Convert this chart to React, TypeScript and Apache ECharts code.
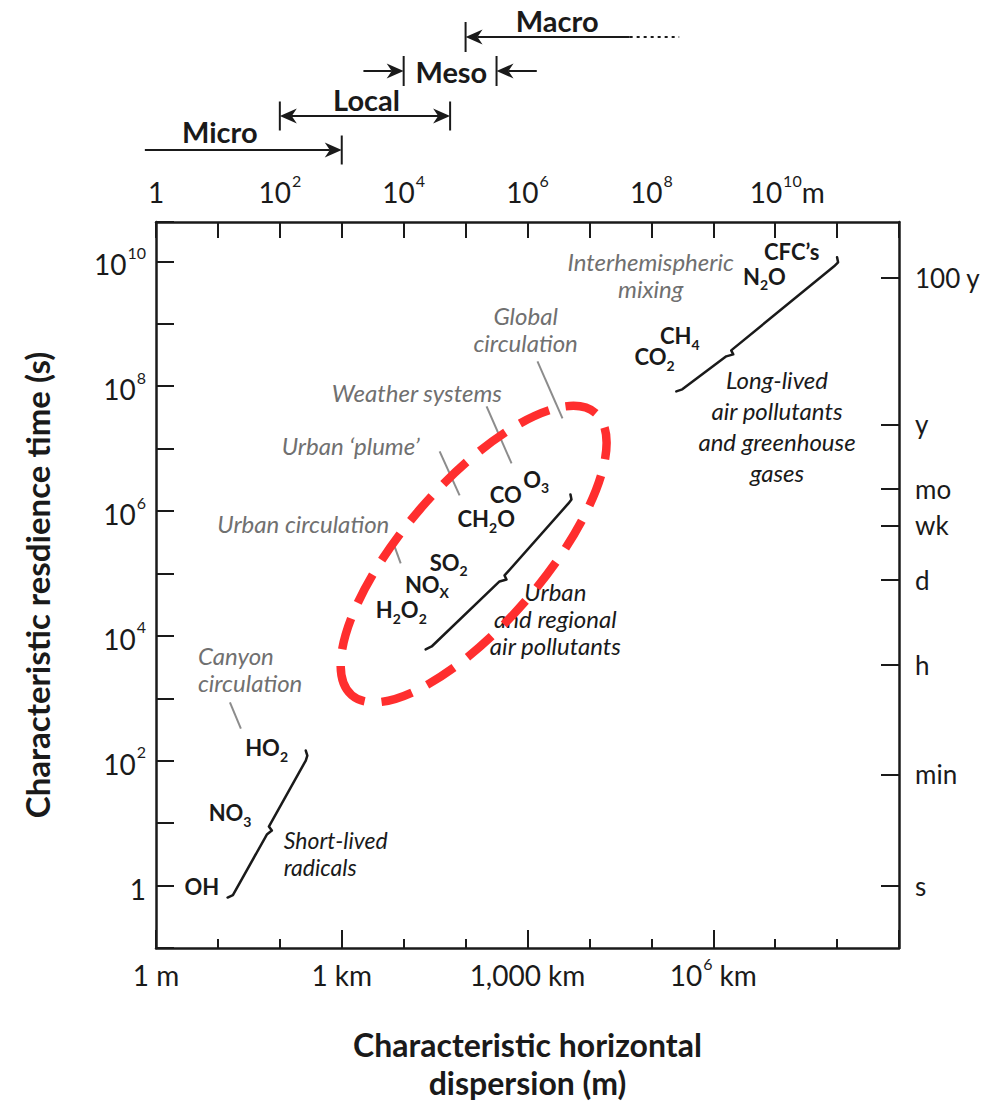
import React, { useEffect, useRef } from 'react';
import * as echarts from 'echarts';

const FONT = 'Lato, "Open Sans", "Noto Sans", sans-serif';
const INK = '#1a1a1a';
const GREY = '#707070';
const LEADER = '#8c8c8c';
const RED = '#ff2e2e';

// ---------- axis ticks & labels (log10 units) ----------
const bottomTickValues = [0, 3, 6, 9];
const bottomTickLabels = ['{n|1 m}', '{n|1 km}', '{n|1,000 km}', '{n|10}{s|6}{n| km}'];
const topTickValues = [0, 2, 4, 6, 8, 10];
const topTickLabels = ['{n|1}', '{n|10}{s|2}', '{n|10}{s|4}', '{n|10}{s|6}', '{n|10}{s|8}', '{sp| }{n|10}{s|10}{n|m}'];
const leftTickValues = [0, 2, 4, 6, 8, 10];
const leftTickLabels = ['{n|1}', '{n|10}{s|2}', '{n|10}{s|4}', '{n|10}{s|6}', '{n|10}{s|8}', '{n|10}{s|10}'];
const timeTickValues = [0, 1.78, 3.54, 4.9, 5.77, 6.36, 7.39, 9.73];
const timeTickLabels = ['s', 'min', 'h', 'd', 'wk', 'mo', 'y', '100 y'];

// ---------- species labels (log10 m, log10 s) ----------
const speciesNames = ['OH', 'NO_3', 'HO_2', 'H_2O_2', 'NO_X', 'SO_2', 'CH_2O', 'CO', 'O_3', 'CO_2', 'CH_4', 'N_2O', 'CFC\u2019s'];
const speciesLogM = [0.46, 0.85, 1.44, 3.55, 4.02, 4.42, 4.87, 5.39, 5.93, 7.73, 8.14, 9.48, 9.82];
const speciesLogS = [-0.02, 1.17, 2.21, 4.42, 4.83, 5.18, 5.88, 6.27, 6.51, 8.47, 8.81, 9.76, 10.16];

// ---------- process (circulation) labels ----------
const processNames = ['Canyon\ncirculation', 'Urban circulation', 'Urban \u2018plume\u2019', 'Weather systems', 'Global\ncirculation', 'Interhemispheric\nmixing'];
const processLogM = [0.677, 0.99, 2.03, 2.84, 5.97, 7.99];
const processLogS = [3.47, 5.8, 7.05, 7.9, 8.92, 9.78];
const processAlign = ['left', 'left', 'left', 'left', 'center', 'center'];

// leader lines from process labels to species
const leaderFrom = [[1.194, 2.933], [3.823, 5.513], [4.581, 6.955], [5.339, 7.676], [6.161, 8.397]];
const leaderTo = [[1.371, 2.516], [3.952, 5.16], [4.903, 6.25], [5.742, 6.763], [6.565, 7.484]];

// ---------- pollutant group labels ----------
const groupNames = ['Short-lived\nradicals', 'Urban\nand regional\nair pollutants', 'Long-lived\nair pollutants\nand greenhouse\ngases'];
const groupLogM = [2.065, 6.45, 10.03];
const groupLogS = [0.513, 4.28, 7.36];
const groupAlign = ['left', 'center', 'center'];
const groupFontSize = [23, 24, 24];
const groupLineHeight = [27, 27, 31];

// ---------- brace-shaped ranges ----------
const radicalsRange = [[1.156, -0.192], [1.242, -0.152], [1.79, 0.817], [1.871, 0.881], [1.823, 0.946], [2.419, 2.003], [2.444, 2.083], [2.419, 2.163]];
const urbanRange = [[4.355, 3.782], [4.452, 3.83], [5.548, 4.872], [5.661, 4.904], [5.629, 4.968], [6.661, 6.122], [6.71, 6.186], [6.694, 6.266]];
const longLivedRange = [[8.403, 7.917], [8.5, 7.949], [9.21, 8.478], [9.323, 8.51], [9.29, 8.574], [10.952, 9.92], [11.016, 9.984], [11.0, 10.064]];
const ranges = [radicalsRange, urbanRange, longLivedRange];

// ---------- highlighted region (red dashed ellipse) ----------
const ellipseCenter = [5.13, 5.31];
const ellipseMajorEnd = [7.1, 7.57];
const ellipseAxisRatio = 0.375;

// ---------- spatial scale bands (top) ----------
const scaleNames = ['Micro', 'Local', 'Meso', 'Macro'];
const scaleLowerLogM = [null, 2, 4, 5];
const scaleUpperLogM = [3, 4.75, 5.5, null];
const scaleLabelLogM = [1.03, 3.4, 4.77, 6.48];
const microStartLogM = -0.18;
const mesoOuterLogM = [3.35, 6.15];
const macroSolidEndLogM = 7.65;
const macroDottedEndLogM = 8.45;

// layout (pixels)
const SCALE_ROW_Y = [150, 116, 71, 37];
const SCALE_LABEL_Y = [131, 99, 71, 20];
const SCALE_BAR_HALF = [14.5, 14.5, 15, 15];

const tickRich = {
  n: { fontFamily: FONT, fontSize: 28, lineHeight: 34, verticalAlign: 'top', padding: [6, 0, 0, 0], color: INK },
  s: { fontFamily: FONT, fontSize: 16, lineHeight: 34, verticalAlign: 'top', padding: [0, 0, 0, 1], color: INK },
  sp: { width: 24, fontSize: 10, lineHeight: 34 },
};

function lookup(values: number[], labels: string[], v: number) {
  for (let i = 0; i < values.length; i++) if (Math.abs(values[i] - v) < 1e-6) return labels[i];
  return '';
}

function richChem(s: string) {
  let out = '';
  let buf = '';
  for (let i = 0; i < s.length; i++) {
    if (s[i] === '_') {
      if (buf) { out += `{b|${buf}}`; buf = ''; }
      out += `{s|${s[i + 1]}}`;
      i++;
    } else buf += s[i];
  }
  if (buf) out += `{b|${buf}}`;
  return out;
}

const CHEM_RICH = {
  b: { fontFamily: FONT, fontWeight: 'bold', fontSize: 22, lineHeight: 18, fill: INK },
  s: { fontFamily: FONT, fontWeight: 'bold', fontSize: 14, lineHeight: 18, verticalAlign: 'top', padding: [10.5, 0, 0, 0], fill: INK },
};

const axisLineStyle = { color: INK, width: 2.5 };
const tickLine = { color: INK, width: 2 };

function buildOption() {
  return {
    animation: false,
    backgroundColor: '#ffffff',
    textStyle: { fontFamily: FONT },
    grid: { left: 156, top: 222, width: 743, height: 726, containLabel: false, outerBoundsMode: 'none' },
    xAxis: [
      {
        type: 'value', position: 'bottom', min: 0, max: 12, interval: 3,
        axisLine: { show: true, onZero: false, lineStyle: axisLineStyle },
        axisTick: { show: true, inside: true, length: 18, lineStyle: tickLine },
        minorTick: { show: true, splitNumber: 3, length: 9, lineStyle: tickLine },
        splitLine: { show: false },
        minorSplitLine: { show: false },
        axisLabel: {
          margin: 7,
          formatter: (v: number) => lookup(bottomTickValues, bottomTickLabels, v),
          rich: tickRich,
        },
        name: 'Characteristic horizontal\ndispersion (m)',
        nameLocation: 'middle',
        nameGap: 77,
        nameTextStyle: { fontFamily: FONT, fontWeight: 'bold', fontSize: 32, lineHeight: 38, color: INK },
      },
      {
        type: 'value', position: 'top', min: 0, max: 12, interval: 1,
        axisLine: { show: true, onZero: false, lineStyle: axisLineStyle },
        axisTick: { show: true, inside: true, length: 16, lineStyle: tickLine },
        splitLine: { show: false },
        axisLabel: {
          margin: 16,
          formatter: (v: number) => lookup(topTickValues, topTickLabels, v),
          rich: tickRich,
        },
      },
    ],
    yAxis: [
      {
        type: 'value', position: 'left', min: -1, max: 10.63, interval: 1,
        axisLine: { show: true, onZero: false, lineStyle: axisLineStyle },
        axisTick: { show: true, inside: true, length: 18, lineStyle: tickLine },
        splitLine: { show: false },
        axisLabel: {
          margin: 10,
          formatter: (v: number) => lookup(leftTickValues, leftTickLabels, v),
          rich: tickRich,
        },
        name: 'Characteristic resdience time (s)',
        nameLocation: 'middle',
        nameRotate: 90,
        nameGap: 103,
        nameTextStyle: { fontFamily: FONT, fontWeight: 'bold', fontSize: 33, color: INK },
      },
      {
        type: 'value', position: 'right', min: -1, max: 10.63,
        axisLine: { show: true, onZero: false, lineStyle: axisLineStyle },
        axisTick: { show: true, inside: true, length: 18, lineStyle: tickLine, customValues: timeTickValues },
        splitLine: { show: false },
        axisLabel: {
          margin: 16,
          customValues: timeTickValues,
          formatter: (v: number) => lookup(timeTickValues, timeTickLabels, v),
          fontFamily: FONT, fontSize: 26, color: INK,
        },
      },
    ],
    series: [
      // brace ranges
      {
        type: 'custom', coordinateSystem: 'cartesian2d', clip: false, silent: true, z: 3,
        data: ranges.map((r) => r[0]),
        renderItem: (params: any, api: any) => {
          const pts = ranges[params.dataIndex].map((p) => api.coord(p));
          return {
            type: 'polyline', shape: { points: pts },
            style: { stroke: INK, lineWidth: 2.5, fill: null, lineJoin: 'round', lineCap: 'round' },
          };
        },
      },
      // leader lines
      {
        type: 'custom', coordinateSystem: 'cartesian2d', clip: false, silent: true, z: 3,
        data: leaderFrom,
        renderItem: (params: any, api: any) => {
          const a = api.coord(leaderFrom[params.dataIndex]);
          const b = api.coord(leaderTo[params.dataIndex]);
          return { type: 'line', shape: { x1: a[0], y1: a[1], x2: b[0], y2: b[1] }, style: { stroke: LEADER, lineWidth: 2 } };
        },
      },
      // species labels
      {
        type: 'custom', coordinateSystem: 'cartesian2d', clip: false, silent: true, z: 4,
        data: speciesNames.map((_, i) => [speciesLogM[i], speciesLogS[i]]),
        renderItem: (params: any, api: any) => {
          const i = params.dataIndex;
          const p = api.coord([speciesLogM[i], speciesLogS[i]]);
          return {
            type: 'text', x: p[0], y: p[1],
            style: { text: richChem(speciesNames[i]), align: 'left', verticalAlign: 'middle', rich: CHEM_RICH, fill: INK },
          };
        },
      },
      // process labels (grey italic)
      {
        type: 'custom', coordinateSystem: 'cartesian2d', clip: false, silent: true, z: 4,
        data: processNames.map((_, i) => [processLogM[i], processLogS[i]]),
        renderItem: (params: any, api: any) => {
          const i = params.dataIndex;
          const p = api.coord([processLogM[i], processLogS[i]]);
          return {
            type: 'text', x: p[0], y: p[1],
            style: {
              text: processNames[i], align: processAlign[i], verticalAlign: 'middle',
              fontFamily: FONT, fontStyle: 'italic', fontSize: 24, lineHeight: 27, fill: GREY,
            },
          };
        },
      },
      // group labels (black italic)
      {
        type: 'custom', coordinateSystem: 'cartesian2d', clip: false, silent: true, z: 4,
        data: groupNames.map((_, i) => [groupLogM[i], groupLogS[i]]),
        renderItem: (params: any, api: any) => {
          const i = params.dataIndex;
          const p = api.coord([groupLogM[i], groupLogS[i]]);
          return {
            type: 'text', x: p[0], y: p[1],
            style: {
              text: groupNames[i], align: groupAlign[i], verticalAlign: 'middle',
              fontFamily: FONT, fontStyle: 'italic', fontSize: groupFontSize[i], lineHeight: groupLineHeight[i], fill: INK,
            },
          };
        },
      },
      // red dashed ellipse
      {
        type: 'custom', coordinateSystem: 'cartesian2d', clip: false, silent: true, z: 6,
        data: [ellipseCenter],
        renderItem: (params: any, api: any) => {
          const c = api.coord(ellipseCenter);
          const e = api.coord(ellipseMajorEnd);
          const dx = e[0] - c[0];
          const dy = e[1] - c[1];
          const a = Math.hypot(dx, dy);
          return {
            type: 'ellipse', x: c[0], y: c[1], rotation: Math.atan2(-dy, dx),
            shape: { cx: 0, cy: 0, rx: a, ry: a * ellipseAxisRatio },
            style: { fill: 'none', stroke: RED, lineWidth: 8.5, lineDash: [32, 17] },
          };
        },
      },
      // spatial scale bands at the top
      {
        type: 'custom', coordinateSystem: 'cartesian2d', clip: false, silent: true, z: 4,
        data: scaleNames.map((_, i) => [scaleLabelLogM[i], 0]),
        renderItem: (params: any, api: any) => {
          const i = params.dataIndex;
          const X = (v: number) => api.coord([v, 0])[0];
          const y = SCALE_ROW_Y[i];
          const L = 17;
          const W = 7.5;
          const hb = SCALE_BAR_HALF[i];
          const line = (x1: number, x2: number, dash?: number[]) => ({
            type: 'line', shape: { x1, y1: y, x2, y2: y }, style: { stroke: INK, lineWidth: 2, lineDash: dash },
          });
          const bar = (x: number) => ({ type: 'line', shape: { x1: x, y1: y - hb, x2: x, y2: y + hb }, style: { stroke: INK, lineWidth: 2 } });
          const head = (tip: number, dir: number) => ({
            type: 'polygon',
            shape: { points: [[tip, y], [tip - dir * L, y - W], [tip - dir * L * 0.7, y], [tip - dir * L, y + W]] },
            style: { fill: INK },
          });
          const children: any[] = [];
          const lo = scaleLowerLogM[i];
          const hi = scaleUpperLogM[i];
          if (i === 0) {
            const t = X(hi as number);
            children.push(line(X(microStartLogM), t - L * 0.7), head(t, 1), bar(t));
          } else if (i === 1) {
            const a = X(lo as number);
            const b = X(hi as number);
            children.push(line(a + L * 0.7, b - L * 0.7), head(a, -1), head(b, 1), bar(a), bar(b));
          } else if (i === 2) {
            const a = X(lo as number);
            const b = X(hi as number);
            children.push(
              line(X(mesoOuterLogM[0]), a - L * 0.7), head(a, 1), bar(a),
              line(b + L * 0.7, X(mesoOuterLogM[1])), head(b, -1), bar(b),
            );
          } else {
            const a = X(lo as number);
            children.push(
              bar(a), head(a, -1), line(a + L * 0.7, X(macroSolidEndLogM)),
              line(X(macroSolidEndLogM), X(macroDottedEndLogM), [3, 4]),
            );
          }
          children.push({
            type: 'text', x: X(scaleLabelLogM[i]), y: SCALE_LABEL_Y[i],
            style: {
              text: scaleNames[i], align: 'center', verticalAlign: 'middle',
              fontFamily: FONT, fontWeight: 'bold', fontSize: 29, fill: INK,
            },
          });
          return { type: 'group', children };
        },
      },
    ],
  };
}

export default function App() {
  const ref = useRef<HTMLDivElement>(null);
  useEffect(() => {
    document.body.style.margin = '0';
    const chart = echarts.init(ref.current as HTMLDivElement, null, { renderer: 'svg' });
    chart.setOption(buildOption() as any);
    return () => chart.dispose();
  }, []);
  return <div ref={ref} style={{ width: 984, height: 1102, background: '#fff' }} />;
}
